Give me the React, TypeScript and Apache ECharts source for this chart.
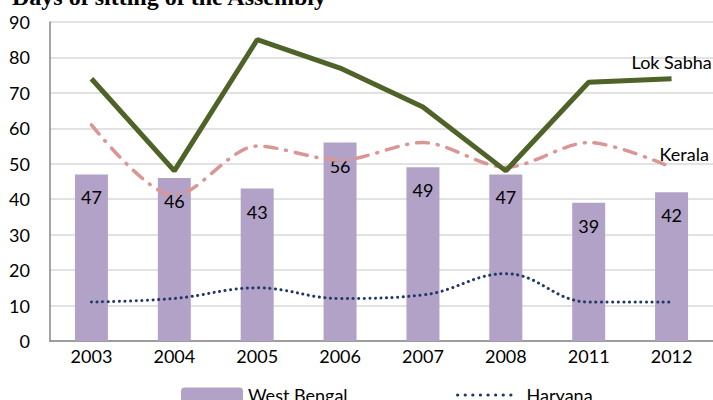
import React, { useEffect, useRef } from "react";
import * as echarts from "echarts";

const years = ["2003", "2004", "2005", "2006", "2007", "2008", "2011", "2012"];
const westBengal = [47, 46, 43, 56, 49, 47, 39, 42];
const lokSabha = [74, 48, 85, 77, 66, 48, 73, 74];
const kerala = [61, 41, 55, 51, 56, 49, 56, 49];
const haryana = [11, 12, 15, 12, 13, 19, 11, 11];

const FONT = "Lato, 'Open Sans', sans-serif";
const FS = 18;

export default function App() {
  const ref = useRef<HTMLDivElement>(null);
  useEffect(() => {
    document.body.style.margin = "0";
    const chart = echarts.init(ref.current!, null, { renderer: "svg" });
    chart.setOption({
      animation: false,
      textStyle: { fontFamily: FONT },
      title: {
        text: "Days of sitting of the Assembly",
        left: 7,
        top: -20,
        textStyle: { fontFamily: "'Liberation Serif', serif", fontWeight: "bold", fontSize: 24, color: "#000" },
      },
      grid: { left: 50, right: -3, top: 22, bottom: 59, containLabel: false },
      legend: [
        {
          data: ["West Bengal"],
          left: 176,
          top: 381,
          itemWidth: 62,
          itemHeight: 15,
          itemGap: 5,
          textStyle: { fontSize: FS, color: "#000", fontFamily: FONT },
        },
        {
          data: ["Haryana"],
          left: 451,
          top: 381,
          itemWidth: 54,
          itemHeight: 15,
          itemStyle: { opacity: 0 },
          lineStyle: { color: "#1f3864", width: 3.2, type: [0.1, 7.5], cap: "round" },
          textStyle: { fontSize: FS, color: "#000", fontFamily: FONT, padding: [0, 0, 0, 10] },
        },
      ],
      xAxis: {
        type: "category",
        data: years,
        axisLine: { lineStyle: { color: "#868686", width: 1.5 } },
        axisTick: { show: false },
        axisLabel: { fontSize: FS, color: "#000", margin: 6, fontFamily: FONT },
      },
      yAxis: {
        type: "value",
        min: 0,
        max: 90,
        interval: 10,
        axisLine: { show: true, lineStyle: { color: "#868686", width: 1.5 } },
        axisTick: { show: false },
        axisLabel: { fontSize: FS, color: "#000", margin: 20, fontFamily: FONT },
        splitLine: { lineStyle: { color: "#d9d9d9", width: 1.5 } },
      },
      series: [
        {
          name: "West Bengal",
          type: "bar",
          data: westBengal,
          barWidth: 33,
          itemStyle: { color: "#b3a2c7" },
          label: {
            show: true,
            position: "insideTop",
            distance: 14,
            fontSize: FS,
            color: "#000",
            fontFamily: FONT,
          },
          z: 1,
        },
        {
          name: "Haryana",
          type: "line",
          data: haryana,
          smooth: 0.4,
          symbol: "none",
          lineStyle: { color: "#1f3864", width: 3, type: [0.1, 5.5], cap: "round" },
          itemStyle: { color: "#1f3864" },
          z: 3,
        },
        {
          name: "Kerala",
          type: "line",
          data: kerala,
          smooth: 0.3,
          symbol: "none",
          lineStyle: { color: "#d99694", width: 3.5, type: [12, 9, 1, 9], cap: "round" },
          itemStyle: { color: "#d99694" },
          endLabel: {
            show: true,
            formatter: "Kerala",
            fontSize: FS,
            color: "#000",
            fontFamily: FONT,
            offset: [-20, -13],
          },
          z: 3,
        },
        {
          name: "Lok Sabha",
          type: "line",
          data: lokSabha,
          symbol: "none",
          lineStyle: { color: "#4f6228", width: 5 },
          itemStyle: { color: "#4f6228" },
          endLabel: {
            show: true,
            formatter: "Lok Sabha",
            fontSize: FS,
            color: "#000",
            fontFamily: FONT,
            offset: [-48, -17],
          },
          z: 4,
        },
      ],
    });
    return () => chart.dispose();
  }, []);
  return <div ref={ref} style={{ width: 713, height: 400 }} />;
}
